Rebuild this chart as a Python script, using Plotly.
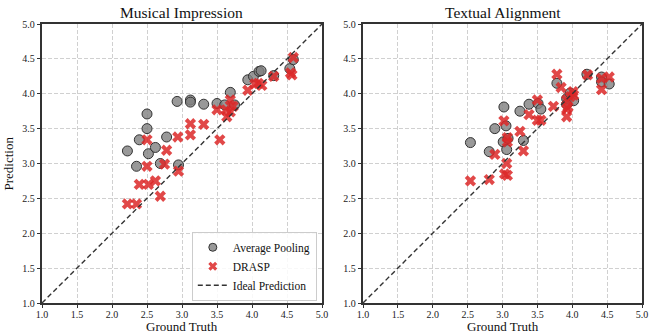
import plotly.graph_objects as go

# ---- data ----
mi_avg_x = [2.22, 2.35, 2.39, 2.50, 2.50, 2.52, 2.62, 2.69, 2.78, 2.93, 2.95, 3.12, 3.12, 3.31,
            3.50, 3.61, 3.69, 3.75, 3.94, 4.02, 4.10, 4.13, 4.31, 4.54, 4.59]
mi_avg_y = [3.18, 2.96, 3.34, 3.71, 3.50, 3.14, 3.23, 3.00, 3.38, 3.89, 2.98, 3.91, 3.88, 3.85,
            3.86, 3.84, 4.02, 3.84, 4.20, 4.25, 4.32, 4.33, 4.26, 4.36, 4.49]
mi_drasp_x = [2.22, 2.35, 2.39, 2.50, 2.50, 2.52, 2.62, 2.69, 2.75, 2.78, 2.94, 2.95, 3.12, 3.12,
              3.31, 3.50, 3.54, 3.63, 3.64, 3.69, 3.69, 3.73, 3.94, 4.04, 4.09, 4.14, 4.31,
              4.55, 4.57, 4.59]
mi_drasp_y = [2.42, 2.42, 2.70, 3.34, 2.96, 2.70, 2.75, 2.53, 2.99, 3.19, 3.38, 2.89, 3.57, 3.41,
              3.56, 3.77, 3.34, 3.77, 3.67, 3.91, 3.74, 3.82, 4.05, 4.14, 4.15, 4.12, 4.25,
              4.30, 4.27, 4.52]

ta_avg_x = [2.54, 2.81, 2.89, 3.01, 3.02, 3.05, 3.06, 3.08, 3.25, 3.30, 3.38, 3.51, 3.55, 3.78,
            3.92, 3.97, 4.02, 3.92, 4.21, 4.42, 4.42, 4.53]
ta_avg_y = [3.30, 3.17, 3.50, 3.31, 3.81, 3.54, 3.20, 3.36, 3.75, 3.33, 3.85, 3.86, 3.78, 4.15,
            3.93, 4.01, 3.90, 3.85, 4.28, 4.24, 4.17, 4.14]
ta_drasp_x = [2.54, 2.81, 2.89, 3.02, 3.03, 3.06, 3.07, 3.07, 3.07, 3.25, 3.30, 3.38, 3.50, 3.50,
              3.55, 3.73, 3.78, 3.84, 3.92, 3.97, 4.01, 4.02, 3.92, 3.94, 3.92, 4.22, 4.42,
              4.53, 4.42]
ta_drasp_y = [2.75, 2.77, 3.13, 3.61, 2.85, 3.00, 2.83, 3.37, 3.31, 3.46, 3.18, 3.70, 3.91, 3.62,
              3.62, 3.82, 4.28, 4.09, 3.91, 3.96, 4.03, 3.98, 3.78, 3.81, 3.67, 4.27, 4.22,
              4.24, 4.06]

ideal = [1.0, 5.0]
tick_vals = [1.0, 1.5, 2.0, 2.5, 3.0, 3.5, 4.0, 4.5, 5.0]
tick_text = ["1.0", "1.5", "2.0", "2.5", "3.0", "3.5", "4.0", "4.5", "5.0"]
titles = ["Musical Impression", "Textual Alignment"]
legend_names = ["Average Pooling", "DRASP", "Ideal Prediction"]

FONT = "Liberation Serif"
GRAY = "rgba(128,128,128,0.8)"
RED = "rgba(220,40,40,0.85)"
LINE = dict(color="#333333", width=1.4, dash="5px,3px")

fig = go.Figure()
panels = [(mi_avg_x, mi_avg_y, mi_drasp_x, mi_drasp_y, "x", "y"),
          (ta_avg_x, ta_avg_y, ta_drasp_x, ta_drasp_y, "x2", "y2")]
for ax, ay, dx, dy, xa, ya in panels:
    fig.add_trace(go.Scatter(x=ax, y=ay, mode="markers",
                             marker=dict(symbol="circle", size=10, color=GRAY,
                                         line=dict(color="#333333", width=1)),
                             showlegend=False, xaxis=xa, yaxis=ya))
    fig.add_trace(go.Scatter(x=dx, y=dy, mode="markers",
                             marker=dict(symbol="x", size=10, color=RED, line=dict(width=0)),
                             showlegend=False, xaxis=xa, yaxis=ya))
    fig.add_trace(go.Scatter(x=ideal, y=ideal, mode="lines", line=LINE,
                             showlegend=False, xaxis=xa, yaxis=ya))

# legend-only entries with smaller symbols
fig.add_trace(go.Scatter(x=[None], y=[None], mode="markers", name=legend_names[0],
                         marker=dict(symbol="circle", size=8, color=GRAY,
                                     line=dict(color="#333333", width=1))))
fig.add_trace(go.Scatter(x=[None], y=[None], mode="markers", name=legend_names[1],
                         marker=dict(symbol="x", size=8, color=RED, line=dict(width=0))))
fig.add_trace(go.Scatter(x=[None], y=[None], mode="lines", name=legend_names[2], line=LINE))

axis_common = dict(range=[1.0, 5.0], tickvals=tick_vals, ticktext=tick_text, automargin=False,
                   showline=True, linecolor="#333333", linewidth=1.5, mirror=True,
                   ticks="outside", ticklen=3.5, tickwidth=1, tickcolor="#333333",
                   showgrid=True, gridcolor="#d0d0d0", gridwidth=0.8, griddash="4px,2px",
                   zeroline=False, tickfont=dict(family=FONT, size=10, color="#222222"))

fig.update_layout(
    width=649, height=333,
    margin=dict(l=42, r=7, t=24, b=30),
    paper_bgcolor="white", plot_bgcolor="white",
    font=dict(family=FONT, color="#111111"),
    xaxis=dict(domain=[0, 0.4667], anchor="y", ticklabelstandoff=-2, **axis_common),
    yaxis=dict(domain=[0, 1], anchor="x", **axis_common),
    xaxis2=dict(domain=[0.535, 1.0], anchor="y2", ticklabelstandoff=-2, **axis_common),
    yaxis2=dict(domain=[0, 1], anchor="x2", **axis_common),
    legend=dict(x=0.458, y=0.008, xanchor="right", yanchor="bottom",
                bgcolor="rgba(255,255,255,0.85)", bordercolor="#cccccc", borderwidth=1,
                font=dict(family=FONT, size=11.5, color="#111111"),
                tracegroupgap=0, itemwidth=30),
    showlegend=True,
)

centers = [0.2333, 0.7675]
for i, t in enumerate(titles):
    fig.add_annotation(text=t, xref="paper", yref="paper",
                       x=centers[i], y=1.0, yshift=1, xanchor="center", yanchor="bottom",
                       showarrow=False, font=dict(family=FONT, size=15.5, color="#111111"))
    fig.add_annotation(text="Ground Truth", xref="paper", yref="paper",
                       x=centers[i], y=0, yshift=-14, xanchor="center", yanchor="top",
                       showarrow=False, font=dict(family=FONT, size=13, color="#111111"))
fig.add_annotation(text="Prediction", xref="paper", yref="paper", textangle=-90,
                   x=0, xshift=-34, y=0.5, xanchor="center", yanchor="middle",
                   showarrow=False, font=dict(family=FONT, size=13, color="#111111"))

fig.write_html("out.html", config={"displayModeBar": False},
               post_script="document.body.style.margin='0';document.body.style.overflow='hidden';")
